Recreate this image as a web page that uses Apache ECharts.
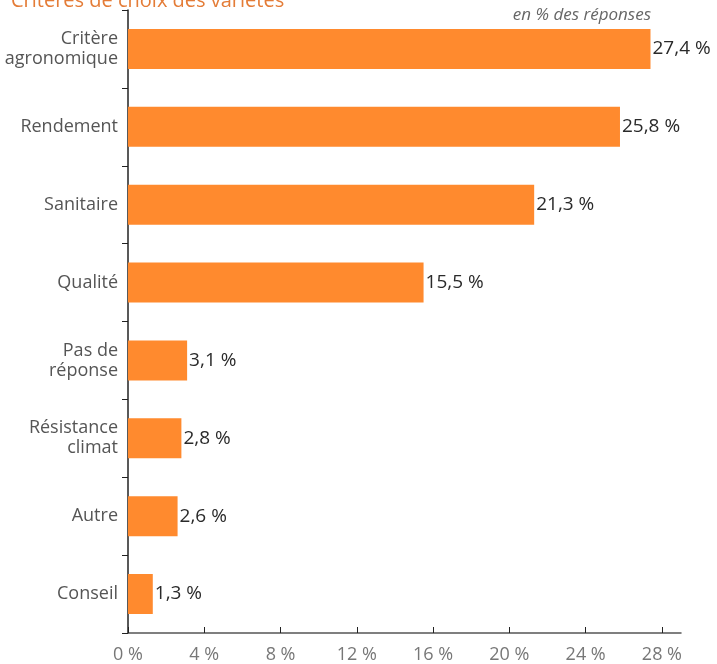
<!DOCTYPE html>
<html>
<head>
<meta charset="utf-8">
<script src="https://cdn.jsdelivr.net/npm/echarts@6/dist/echarts.min.js"></script>
<style>
  html, body { margin: 0; padding: 0; background: #fff; }
  #chart { width: 717px; height: 664px; }
</style>
</head>
<body>
<div id="chart"></div>
<script>
// critères de choix, du plus cité au moins cité
const categories = [
  'Critère\nagronomique',
  'Rendement',
  'Sanitaire',
  'Qualité',
  'Pas de\nréponse',
  'Résistance\nclimat',
  'Autre',
  'Conseil'
]
const values = [27.4, 25.8, 21.3, 15.5, 3.1, 2.8, 2.6, 1.3]
const xTicks = [0, 4, 8, 12, 16, 20, 24, 28]

const font = '"Open Sans", Lato, sans-serif'
const colors = {
  bar: '#ff8a2e',
  title: '#e47c37',
  label: '#555',
  value: '#2a2a2a'
}

const chart = echarts.init(document.getElementById('chart'))

const option = {
  animation: false,
  textStyle: { fontFamily: font },
  title: {
    text: 'Critères de choix des variétés',
    left: 6,
    top: -14,
    textStyle: {
      fontFamily: font,
      fontSize: 20,
      fontWeight: 'normal',
      color: colors.title
    }
  },
  graphic: [
    {
      type: 'text',
      right: 66,
      top: 7,
      style: {
        text: 'en % des réponses',
        font: 'italic 17px ' + font,
        fill: '#666'
      }
    }
  ],
  grid: {
    left: 128,
    right: 36,
    top: 10,
    bottom: 30,
    containLabel: false
  },
  xAxis: {
    type: 'value',
    min: 0,
    max: 29,
    interval: 4,
    splitLine: { show: false },
    axisLine: {
      show: true,
      lineStyle: { color: '#555', width: 1.5 }
    },
    axisTick: {
      show: true,
      inside: true,
      length: 6,
      customValues: xTicks,
      lineStyle: { color: '#222' }
    },
    axisLabel: {
      customValues: xTicks,
      formatter: v => v + ' %',
      color: '#777',
      fontSize: 18,
      margin: 13
    }
  },
  yAxis: {
    type: 'category',
    inverse: true,
    data: categories,
    axisLine: {
      show: true,
      lineStyle: { color: '#222', width: 1.5 }
    },
    axisTick: {
      show: true,
      length: 6,
      lineStyle: { color: '#222' }
    },
    axisLabel: {
      color: colors.label,
      fontSize: 18,
      lineHeight: 20,
      margin: 10
    }
  },
  series: [
    {
      type: 'bar',
      data: values,
      barWidth: 40,
      itemStyle: { color: colors.bar },
      label: {
        show: true,
        position: 'right',
        distance: 2,
        color: colors.value,
        fontSize: 19,
        formatter: p => p.value.toFixed(1).replace('.', ',') + ' %'
      }
    }
  ]
}
chart.setOption(option)
</script>
</body>
</html>
